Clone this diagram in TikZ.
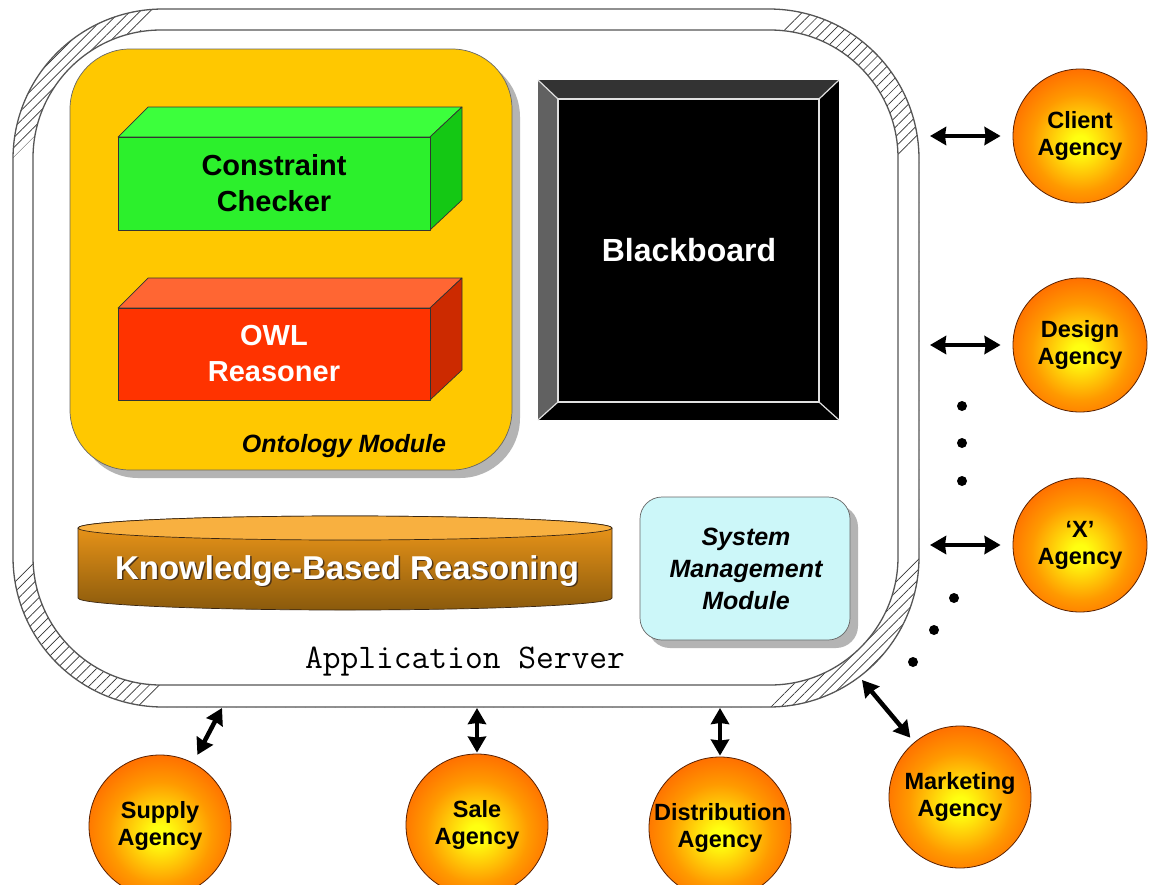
\documentclass[tikz,border=0pt]{standalone}
\usepackage{fontspec}
\setmainfont{Liberation Sans}
\usetikzlibrary{arrows.meta,patterns.meta}
\definecolor{ontoorange}{HTML}{FFC800}
\definecolor{framecol}{HTML}{555555}
\definecolor{shadowgray}{HTML}{B4B4B4}
\definecolor{ggtop}{HTML}{3CFF3C}
\definecolor{ggfront}{HTML}{2CF02C}
\definecolor{ggside}{HTML}{14C814}
\definecolor{rrtop}{HTML}{FF6633}
\definecolor{rrfront}{HTML}{FF3300}
\definecolor{rrside}{HTML}{CC2A00}
\definecolor{cyltop}{HTML}{F8B040}
\definecolor{cylhi}{HTML}{F39A1A}
\definecolor{cyllo}{HTML}{8A5A0C}
\definecolor{smmfill}{HTML}{CCF7F9}
\definecolor{agyellow}{HTML}{FFFF10}
\definecolor{agorange}{HTML}{FF9A00}
\definecolor{agmid}{HTML}{FF5A00}
\definecolor{agred}{HTML}{FF3A00}
\definecolor{agline}{HTML}{5A2000}
\pgfdeclareradialshading{agencyshade}{\pgfpoint{0bp}{-3bp}}{color(0bp)=(agyellow); color(3bp)=(agyellow); color(18bp)=(agorange); color(32bp)=(agmid); color(44bp)=(agred); color(50bp)=(agred); color(100bp)=(agred)}
\tikzset{
  agency/.style={circle, draw=agline, line width=0.8pt, shading=agencyshade,
    minimum size=#1, inner sep=0pt, align=center,
    font=\fontsize{23.5}{27}\selectfont\bfseries, text=black},
  agency/.default=134pt,
  dbl/.style={line width=4.5pt, {Stealth[length=16pt,width=18pt,inset=1pt]}-{Stealth[length=16pt,width=18pt,inset=1pt]}},
  boxedge/.style={draw=black!80, line width=0.7pt, line join=round},
  dotmark/.style={circle, fill=black, inner sep=0pt, minimum size=10pt},
}
\begin{document}
\begin{tikzpicture}[x=1pt,y=-1pt]
\useasboundingbox (0,0) rectangle (1149,884);
% ---------------- application server frame
\begin{scope}
  \clip[rounded corners=150pt] (13,9) rectangle (919,707);
  \fill[pattern={Lines[angle=45,distance=7pt,line width=0.7pt]}, pattern color=black!80] (13,9) rectangle (919,707);
  \fill[white] (160,9) -- (800,9) -- (779,30) -- (139,30) -- cycle;
  \fill[white] (919,137) -- (919,557) -- (898,578) -- (898,158) -- cycle;
  \fill[white] (140,707) -- (770,707) -- (791,685) -- (161,685) -- cycle;
  \fill[white] (13,158) -- (34,137) -- (34,557) -- (13,578) -- cycle;
\end{scope}
\fill[white, rounded corners=128pt] (33,30) rectangle (898,685);
\draw[framecol, line width=1.3pt, rounded corners=150pt] (13,9) rectangle (919,707);
\draw[framecol, line width=1.3pt, rounded corners=128pt] (33,30) rectangle (898,685);
\node[font=\ttfamily\fontsize{34.5}{34.5}\selectfont] (appserver) at (465,662) {Application Server};
% ---------------- ontology module
\fill[shadowgray, rounded corners=60pt] (78,57) rectangle (520,478);
\draw[fill=ontoorange, draw=black!60, line width=0.7pt, rounded corners=60pt] (70,49) rectangle (512,470);
\node[font=\fontsize{25}{30}\selectfont\bfseries\itshape] (ontolabel) at (344,446) {Ontology Module};
% constraint checker box
\fill[ggtop, boxedge] (118,137) -- (148,107) -- (462,107) -- (430,137) -- cycle;
\fill[ggside, boxedge] (430,137) -- (462,107) -- (462,200) -- (430,230) -- cycle;
\fill[ggfront, boxedge] (118,137) rectangle (430,230);
\node[align=center, font=\fontsize{29}{36}\selectfont\bfseries] (cc) at (274,183) {Constraint\\Checker};
% owl reasoner box
\fill[rrtop, boxedge] (118,308) -- (148,278) -- (462,278) -- (430,308) -- cycle;
\fill[rrside, boxedge] (430,308) -- (462,278) -- (462,370) -- (430,400) -- cycle;
\fill[rrfront, boxedge] (118,308) rectangle (430,400);
\node[align=center, font=\fontsize{29}{36}\selectfont\bfseries, text=white] (owl) at (274,354) {OWL\\Reasoner};
% ---------------- blackboard
\fill[black] (538,80) rectangle (839,420);
\fill[black!80] (538,80) -- (839,80) -- (819,99) -- (558,99) -- cycle;
\fill[black!62] (538,80) -- (558,99) -- (558,402) -- (538,420) -- cycle;
\draw[white!88!black, line width=1.2pt] (558,99) rectangle (819,402);
\draw[white!88!black, line width=1.2pt] (538,80) -- (558,99) (839,80) -- (819,99) (538,420) -- (558,402) (839,420) -- (819,402);
\node[font=\fontsize{32}{36}\selectfont\bfseries, text=white] (bb) at (689,250) {Blackboard};
% ---------------- knowledge based reasoning cylinder
\shade[top color=cylhi, bottom color=cyllo, draw=black!70!brown, line width=0.7pt]
  (78,528) -- (78,598) arc[start angle=180, end angle=360, x radius=267pt, y radius=12pt]
  -- (612,528) arc[start angle=0, end angle=180, x radius=267pt, y radius=12pt] -- cycle;
\draw[fill=cyltop, draw=black!70!brown, line width=0.7pt] (345,528) ellipse [x radius=267pt, y radius=12pt];
\node[font=\fontsize{33}{36}\selectfont\bfseries, text=black!60!brown] at (348.5,572.5) {Knowledge-Based Reasoning};
\node[font=\fontsize{33}{36}\selectfont\bfseries, text=white] (kbr) at (347,571) {Knowledge-Based Reasoning};
% ---------------- system management module
\fill[shadowgray, rounded corners=22pt] (648,505) rectangle (858,648);
\draw[fill=smmfill, draw=black!60, line width=0.7pt, rounded corners=22pt] (640,497) rectangle (850,640);
\node[align=center, font=\fontsize{25}{32}\selectfont\bfseries\itshape] (smm) at (746,569) {System\\Management\\Module};
% ---------------- agencies
\node[agency] (client) at (1080,136) {Client\\Agency};
\node[agency] (design) at (1080,345) {Design\\Agency};
\node[agency] (xag) at (1080,545) {`X'\\Agency};
\node[agency=142pt] (supply) at (160,826) {Supply\\Agency};
\node[agency=142pt] (sale) at (477,825) {Sale\\Agency};
\node[agency=142pt] (distrib) at (720,828) {Distribution\\Agency};
\node[agency=142pt] (market) at (960,797) {Marketing\\Agency};
% connector ends on the server frame
\coordinate (eclient) at (930,136);
\coordinate (edesign) at (930,345);
\coordinate (exag) at (930,545);
\coordinate (esupply) at (222,708);
\coordinate (esale) at (477,708);
\coordinate (edistrib) at (720,708);
\coordinate (emarket) at (862,680);
\draw[dbl, shorten >=12pt] (eclient) -- (client);
\draw[dbl, shorten >=12pt] (edesign) -- (design);
\draw[dbl, shorten >=12pt] (exag) -- (xag);
\draw[dbl, shorten >=9pt] (esupply) -- (supply);
\draw[dbl, shorten >=1pt] (esale) -- (sale);
\draw[dbl, shorten >=1pt] (edistrib) -- (distrib);
\draw[dbl, shorten >=6pt] (emarket) -- (market);
% dots
\node[dotmark] (d1) at (962,406) {};
\node[dotmark] (d2) at (962,443) {};
\node[dotmark] (d3) at (962,481) {};
\node[dotmark] (d4) at (954,598) {};
\node[dotmark] (d5) at (934,630) {};
\node[dotmark] (d6) at (913,662) {};
\end{tikzpicture}
\end{document}
